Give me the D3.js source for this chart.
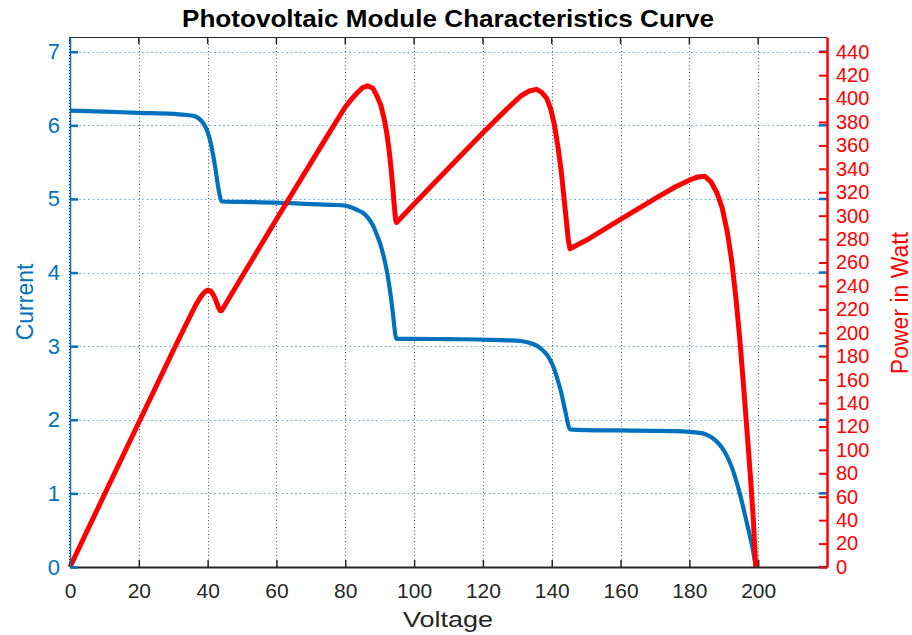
<!DOCTYPE html>
<html>
<head>
<meta charset="utf-8">
<script src="https://cdn.jsdelivr.net/npm/d3@7"></script>
<style>
  html, body { margin: 0; padding: 0; background: #ffffff; }
  svg { display: block; }
  text { font-family: "Liberation Sans", Arial, sans-serif; }
</style>
</head>
<body>
<svg id="chart" width="912" height="635"></svg>
<script>
// ---- data ----
const voltage = [0, 10, 20, 30, 34, 36.5, 38, 39, 40, 40.8, 41.5, 42.2, 42.8, 43.3, 43.7, 44.1,
  50, 60, 70, 76, 80, 82, 83.5, 85, 86.5, 88, 89.2, 90.3, 91.2, 92, 92.7, 93.3, 93.8, 94.2, 94.6, 94.9,
  100, 110, 120, 127, 131, 133.5, 135.5, 137, 138.5, 139.7, 140.8, 141.8, 142.7, 143.5, 144.2, 144.8, 145.3,
  150, 160, 170, 176, 180, 182.5, 184.5, 186.3, 188, 189.5, 191, 192.3, 193.5, 194.6, 195.7, 196.7, 197.7, 198.6, 199.3];
const current = [6.20, 6.185, 6.17, 6.155, 6.14, 6.12, 6.07, 6.01, 5.91, 5.78, 5.62, 5.43, 5.24, 5.10, 5.01, 4.965,
  4.96, 4.95, 4.93, 4.92, 4.91, 4.88, 4.85, 4.815, 4.75, 4.645, 4.51, 4.37, 4.21, 4.04, 3.85, 3.65, 3.46, 3.29, 3.14, 3.10,
  3.10, 3.095, 3.09, 3.08, 3.07, 3.045, 3.01, 2.96, 2.89, 2.80, 2.68, 2.53, 2.38, 2.21, 2.06, 1.93, 1.87,
  1.86, 1.855, 1.85, 1.845, 1.835, 1.825, 1.808, 1.765, 1.70, 1.62, 1.50, 1.36, 1.19, 1.01, 0.80, 0.60, 0.40, 0.20, 0];
const power = [0, 61.9, 123.4, 184.7, 208.8, 223.4, 230.7, 234.4, 236.4, 235.8, 233.2, 229.1, 224.3, 220.8, 218.9, 219.0,
  248.0, 297.0, 345.1, 373.9, 392.8, 400.2, 405.0, 409.3, 410.9, 408.8, 402.3, 394.6, 384.0, 371.7, 356.9, 340.5, 324.5, 309.9, 297.0, 294.2,
  310.0, 340.5, 370.8, 391.2, 402.2, 406.5, 407.9, 405.5, 400.3, 391.2, 377.3, 358.8, 339.6, 317.1, 297.1, 279.5, 271.7,
  279.0, 296.8, 314.5, 324.7, 330.3, 333.1, 333.6, 328.8, 319.6, 307.0, 286.5, 261.5, 230.3, 196.5, 156.6, 118.0, 79.1, 39.7, 0];

const voltageTicks = [0, 20, 40, 60, 80, 100, 120, 140, 160, 180, 200];
const currentTicks = [0, 1, 2, 3, 4, 5, 6, 7];
const powerTicks = [0, 20, 40, 60, 80, 100, 120, 140, 160, 180, 200, 220, 240, 260, 280, 300,
  320, 340, 360, 380, 400, 420, 440];

const titleText = "Photovoltaic Module Characteristics Curve";
const xLabel = "Voltage";
const yLeftLabel = "Current";
const yRightLabel = "Power in Watt";

// ---- layout ----
const plotL = 70, plotR = 827, plotT = 37, plotB = 567;
const blue = "#0072BD", red = "#FF0000", dark = "#262626";

const svg = d3.select("#chart");

const x = d3.scaleLinear().domain([0, 220]).range([plotL, plotR]);
const yI = d3.scaleLinear().domain([0, 7.2]).range([plotB, plotT]);
const yP = d3.scaleLinear().domain([0, 7.2 * 440 / 7]).range([plotB, plotT]);

// background
svg.append("rect").attr("x", 0).attr("y", 0).attr("width", 912).attr("height", 635).attr("fill", "#fff");

// grid: horizontal (light blue dotted)
svg.append("g").selectAll("line").data(currentTicks.filter(d => d > 0)).join("line")
  .attr("x1", plotL).attr("x2", plotR)
  .attr("y1", d => Math.round(yI(d)) + 0.5).attr("y2", d => Math.round(yI(d)) + 0.5)
  .attr("stroke", "#4f95cc").attr("stroke-opacity", 0.7)
  .attr("stroke-width", 1).attr("stroke-dasharray", "2,2.5");

// grid: vertical (dark dotted)
svg.append("g").selectAll("line").data(voltageTicks).join("line")
  .attr("x1", d => Math.round(x(d)) + 0.5).attr("x2", d => Math.round(x(d)) + 0.5)
  .attr("y1", plotT).attr("y2", plotB)
  .attr("stroke", "#333").attr("stroke-opacity", 0.85)
  .attr("stroke-width", 1).attr("stroke-dasharray", "1,2.5");

// top border with ticks
svg.append("line").attr("x1", plotL).attr("x2", plotR).attr("y1", plotT + 0.5).attr("y2", plotT + 0.5)
  .attr("stroke", dark).attr("stroke-width", 1);
svg.append("g").selectAll("line").data(voltageTicks).join("line")
  .attr("x1", d => x(d)).attr("x2", d => x(d))
  .attr("y1", plotT).attr("y2", plotT + 7)
  .attr("stroke", dark).attr("stroke-width", 1.5);

// mirrored left ticks on right side
svg.append("g").selectAll("line").data(currentTicks).join("line")
  .attr("x1", plotR - 8).attr("x2", plotR)
  .attr("y1", d => yI(d)).attr("y2", d => yI(d))
  .attr("stroke", blue).attr("stroke-width", 2.5);

// curves
const lineI = d3.line().x((d, i) => x(voltage[i])).y(d => yI(d)).curve(d3.curveMonotoneX);
const lineP = d3.line().x((d, i) => x(voltage[i])).y(d => yP(d)).curve(d3.curveLinear);

svg.append("path").datum(current).attr("d", lineI)
  .attr("fill", "none").attr("stroke", blue).attr("stroke-width", 4.2)
  .attr("stroke-linejoin", "round");
svg.append("path").datum(power).attr("d", lineP)
  .attr("fill", "none").attr("stroke", red).attr("stroke-width", 5)
  .attr("stroke-linejoin", "round");

// axes
const xAxis = svg.append("g").attr("transform", `translate(0,${plotB})`)
  .call(d3.axisBottom(x).tickValues(voltageTicks).tickSize(-7).tickSizeOuter(0).tickPadding(16));
xAxis.select(".domain").attr("stroke", dark).attr("stroke-width", 2);
xAxis.selectAll(".tick line").attr("stroke", dark).attr("stroke-width", 1.5);
xAxis.selectAll("text").attr("fill", dark).attr("font-size", 21);

const yAxisL = svg.append("g").attr("transform", `translate(${plotL},0)`)
  .call(d3.axisLeft(yI).tickValues(currentTicks).tickSize(-8).tickSizeOuter(0).tickPadding(10));
yAxisL.select(".domain").attr("stroke", blue).attr("stroke-width", 1.5);
yAxisL.selectAll(".tick line").attr("stroke", blue).attr("stroke-width", 2.5);
yAxisL.selectAll("text").attr("fill", blue).attr("font-size", 22);

// dotted overlay on left axis line (grid at x=0)
svg.append("line").attr("x1", plotL - 0.5).attr("x2", plotL - 0.5).attr("y1", plotT).attr("y2", plotB)
  .attr("stroke", "#222").attr("stroke-width", 1).attr("stroke-dasharray", "1,2");

const yAxisR = svg.append("g").attr("transform", `translate(${plotR},0)`)
  .call(d3.axisRight(yP).tickValues(powerTicks).tickSize(-8).tickSizeOuter(0).tickPadding(9));
yAxisR.select(".domain").attr("stroke", red).attr("stroke-width", 2.5);
yAxisR.selectAll(".tick line").attr("stroke", red).attr("stroke-width", 2);
yAxisR.selectAll("text").attr("fill", red).attr("font-size", 20);

// titles
svg.append("text").attr("x", 448).attr("y", 27).attr("text-anchor", "middle")
  .attr("font-size", 23).attr("font-weight", "bold").attr("fill", "#000")
  .attr("textLength", 532).attr("lengthAdjust", "spacingAndGlyphs")
  .text(titleText);

svg.append("text").attr("x", 448).attr("y", 627).attr("text-anchor", "middle")
  .attr("font-size", 22).attr("fill", dark)
  .attr("textLength", 90).attr("lengthAdjust", "spacingAndGlyphs")
  .text(xLabel);

svg.append("text").attr("transform", "translate(33,302) rotate(-90)").attr("text-anchor", "middle")
  .attr("font-size", 23).attr("fill", blue)
  .text(yLeftLabel);

svg.append("text").attr("transform", "translate(908,303) rotate(-90)").attr("text-anchor", "middle")
  .attr("font-size", 23).attr("fill", red)
  .text(yRightLabel);
</script>
</body>
</html>
